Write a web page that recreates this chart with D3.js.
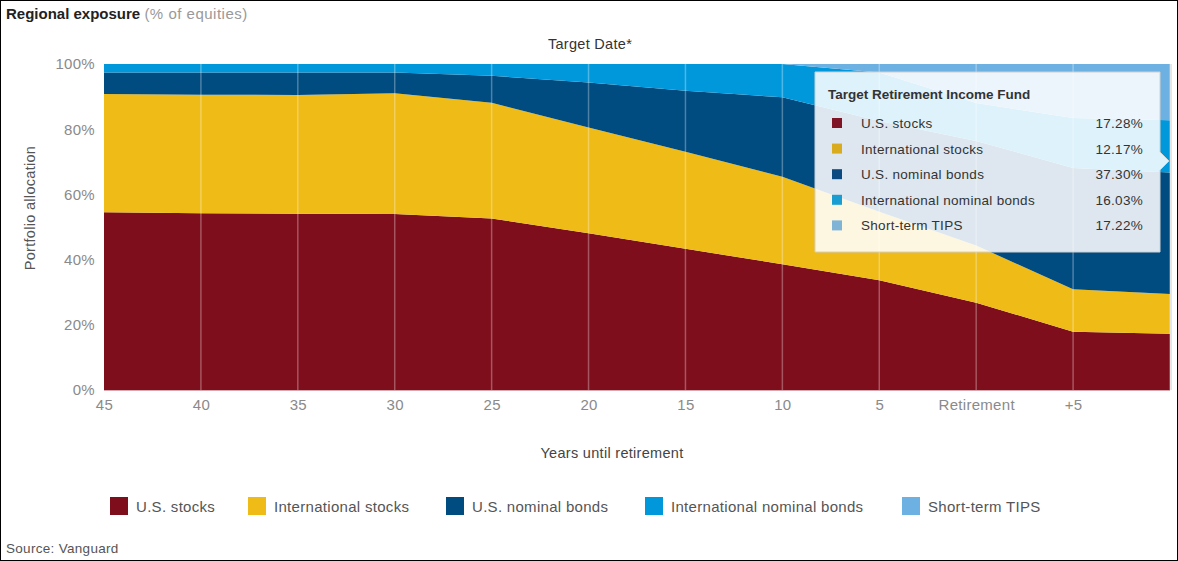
<!DOCTYPE html>
<html>
<head>
<meta charset="utf-8">
<script src="https://cdn.jsdelivr.net/npm/d3@7"></script>
<style>
  body { margin: 0; background: #fff; }
  svg { display: block; font-family: "Liberation Sans", Arial, sans-serif; letter-spacing: 0.3px; }
</style>
</head>
<body>
<div id="chart"></div>
<script>
// values (percent of portfolio)
const categories = ["45", "40", "35", "30", "25", "20", "15", "10", "5", "Retirement", "+5", ""];
const usStocks   = [54.5, 54.2, 54.1, 54.0, 52.6, 48.1, 43.3, 38.6, 33.7, 26.8, 17.9, 17.28];
const intlStocks = [36.3, 36.4, 36.4, 37.0, 35.5, 32.4, 29.8, 26.8, 21.0, 17.5, 13.0, 12.17];
const usBonds    = [6.6, 6.8, 6.9, 6.4, 8.3, 13.8, 18.7, 24.4, 27.8, 32.1, 37.2, 37.30];
const intlBonds  = [2.6, 2.6, 2.6, 2.6, 3.6, 5.7, 8.2, 10.2, 14.9, 11.6, 15.3, 16.03];
const tips       = [0, 0, 0, 0, 0, 0, 0, 0, 2.6, 12.0, 16.6, 17.22];
const yTicks = [0, 20, 40, 60, 80, 100];

const seriesNames = ["U.S. stocks", "International stocks", "U.S. nominal bonds", "International nominal bonds", "Short-term TIPS"];
const seriesKeys = ["us", "intl", "usb", "intlb", "tips"];
const colors = ["#7f0e1c", "#efbb17", "#004b80", "#0098db", "#6db1e2"];
const swatchColors = ["#7f1426", "#d9ab1f", "#0b4a80", "#1a9dd0", "#7fb4d6"];

const W = 1178, H = 561;
const margin = {top: 64, right: 8, bottom: 171, left: 104};
const width = W - margin.left - margin.right,
      height = H - margin.top - margin.bottom;

const svg = d3.select("#chart").append("svg")
    .attr("width", W)
    .attr("height", H);

// outer frame
svg.append("rect")
    .attr("x", 0.5).attr("y", 0.5)
    .attr("width", W - 1).attr("height", H - 1)
    .attr("fill", "none").attr("stroke", "#000");

svg.append("text")
    .attr("x", 6).attr("y", 19)
    .style("font-size", "15px")
    .call(t => {
      t.append("tspan").attr("fill", "#222").style("font-weight", "bold").style("letter-spacing", "0px").text("Regional exposure ");
      t.append("tspan").attr("fill", "#999").style("letter-spacing", "0.5px").text("(% of equities)");
    });

svg.append("text")
    .attr("x", 590).attr("y", 49)
    .attr("text-anchor", "middle")
    .style("font-size", "14.5px").attr("fill", "#333")
    .text("Target Date*");

const g = svg.append("g")
    .attr("transform", `translate(${margin.left},${margin.top})`);

const table = categories.map((c, i) => ({
  cat: c, us: usStocks[i], intl: intlStocks[i], usb: usBonds[i], intlb: intlBonds[i], tips: tips[i]
}));

const stacked = d3.stack().keys(seriesKeys)(table);

const x = d3.scalePoint()
    .domain(categories)
    .range([0, width]);

const y = d3.scaleLinear()
    .domain([0, 100])
    .range([height, 0]);

const area = d3.area()
    .x(d => x(d.data.cat))
    .y0(d => y(d[0]))
    .y1(d => y(d[1]));

g.selectAll(".layer")
  .data(stacked)
  .enter().append("path")
    .attr("class", "layer")
    .attr("d", area)
    .attr("fill", (d, i) => colors[i]);

// vertical grid lines over the areas
g.selectAll(".vgrid")
  .data(categories.slice(1))
  .enter().append("line")
    .attr("x1", d => x(d)).attr("x2", d => x(d))
    .attr("y1", 0).attr("y2", height)
    .attr("stroke", "#fff")
    .attr("stroke-opacity", 0.3)
    .attr("stroke-width", 1.5);

g.append("line")
    .attr("x1", width + 1).attr("x2", width + 1)
    .attr("y1", 0).attr("y2", height)
    .attr("stroke", "#ccc");

g.append("line")
    .attr("x1", 0).attr("x2", width)
    .attr("y1", height + 0.5).attr("y2", height + 0.5)
    .attr("stroke", "#d8a8ae");

// axes
const xAxis = g.append("g")
    .attr("transform", `translate(0,${height})`)
    .call(d3.axisBottom(x).tickSize(0).tickPadding(9));
xAxis.select(".domain").remove();
xAxis.selectAll("text")
    .style("font-size", "15px").style("font-family", "Liberation Sans").attr("fill", "#8a8a8a");

const yAxis = g.append("g")
    .call(d3.axisLeft(y).tickValues(yTicks).tickSize(0).tickPadding(9).tickFormat(d => d + "%"));
yAxis.select(".domain").remove();
yAxis.selectAll("text")
    .style("font-size", "15px").style("font-family", "Liberation Sans").attr("fill", "#8a8a8a");

svg.append("text")
    .attr("transform", "rotate(-90)")
    .attr("x", -208).attr("y", 35)
    .attr("text-anchor", "middle")
    .style("font-size", "14.5px").attr("fill", "#555")
    .text("Portfolio allocation");

svg.append("text")
    .attr("x", 612).attr("y", 458)
    .attr("text-anchor", "middle")
    .style("font-size", "14.5px").attr("fill", "#444")
    .text("Years until retirement");

// bottom legend
const legendX = [110, 248, 446, 645, 902];
const legend = svg.selectAll(".legend")
  .data(seriesNames)
  .enter().append("g")
    .attr("transform", (d, i) => `translate(${legendX[i]},497)`);
legend.append("rect")
    .attr("width", 18).attr("height", 18)
    .attr("fill", (d, i) => colors[i]);
legend.append("text")
    .attr("x", 26).attr("y", 15)
    .style("font-size", "15px").attr("fill", "#555")
    .text(d => d);

svg.append("text")
    .attr("x", 6).attr("y", 553)
    .style("font-size", "13.5px").attr("fill", "#555")
    .text("Source: Vanguard");

// tooltip for the last point
const last = categories.length - 1;
const tipValues = [usStocks[last], intlStocks[last], usBonds[last], intlBonds[last], tips[last]];
const tip = svg.append("g").attr("transform", "translate(815,72)");
const tw = 345, th = 180;
tip.append("path")
    .attr("d", `M0,0H${tw}V${th / 2 - 10}L${tw + 9},${th / 2 - 1}L${tw},${th / 2 + 8}V${th}H0Z`)
    .attr("fill", "#fff").attr("fill-opacity", 0.87)
    .attr("stroke", "#d0d0d0");
tip.append("text")
    .attr("x", 13).attr("y", 27)
    .style("font-size", "13.5px").style("font-weight", "bold").style("letter-spacing", "0px").attr("fill", "#333")
    .text("Target Retirement Income Fund");
const rows = tip.selectAll(".row")
  .data(seriesNames)
  .enter().append("g")
    .attr("transform", (d, i) => `translate(0,${51 + i * 25.6})`);
rows.append("rect")
    .attr("x", 17).attr("y", -5)
    .attr("width", 10).attr("height", 10)
    .attr("fill", (d, i) => swatchColors[i]);
rows.append("text")
    .attr("x", 46).attr("y", 5)
    .style("font-size", "13.5px").attr("fill", "#333")
    .text(d => d);
rows.append("text")
    .attr("x", 328).attr("y", 5)
    .attr("text-anchor", "end")
    .style("font-size", "13.5px").attr("fill", "#333")
    .text((d, i) => d3.format(".2f")(tipValues[i]) + "%");
</script>
</body>
</html>
